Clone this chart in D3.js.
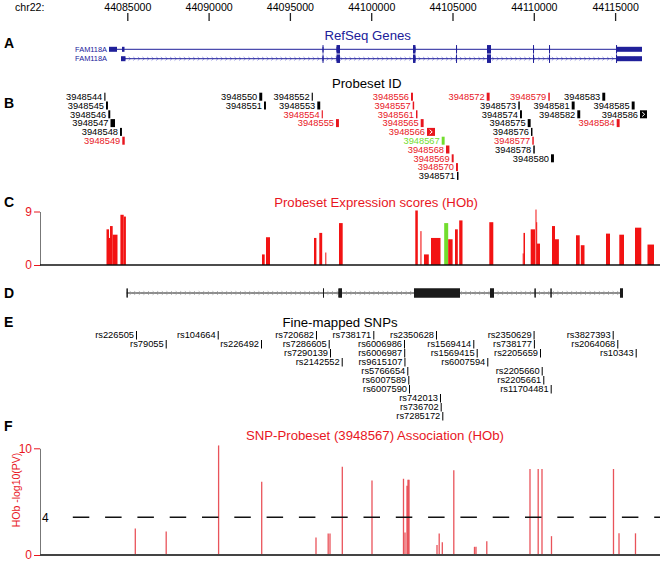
<!DOCTYPE html>
<html><head><meta charset="utf-8">
<script src="https://cdn.jsdelivr.net/npm/d3@7"></script>
<style>
body{margin:0;background:#fff}
svg text{font-family:"Liberation Sans",Arial,Helvetica,sans-serif}
</style>
</head><body>
<svg id="chart" width="661" height="561"></svg>
<script>
// ---------------- DATA ----------------
const chromLabel = "chr22:";
const axisTicks = [44085000, 44090000, 44095000, 44100000, 44105000, 44110000, 44115000];

// RefSeq gene FAM118A (two transcripts), exon [start,end]
const geneName = "FAM118A";
const tx1Exons = [[44083875,44084367],[44084674,44084828],[44097006,44097066],[44097866,44098081],[44102571,44102724],[44105217,44105277],[44107122,44107368],[44109952,44110012],[44110936,44110996],[44115055,44116654]];
const tx2Exons = [[44084613,44084889],[44097006,44097066],[44097866,44098081],[44102571,44102724],[44105217,44105277],[44107122,44107368],[44109952,44110012],[44110936,44110996],[44115055,44116654]];
const cdsRange = [44097006, 44115120];

// Probesets
const probesetIds = ["3948544","3948545","3948546","3948547","3948548","3948549","3948550","3948551","3948552","3948553","3948554","3948555","3948556","3948557","3948561","3948565","3948566","3948567","3948568","3948569","3948570","3948571","3948572","3948573","3948574","3948575","3948576","3948577","3948578","3948579","3948580","3948581","3948582","3948583","3948584","3948585","3948586"];
const probesetStart = [44083586,44083690,44083832,44083967,44084551,44084692,44093118,44093407,44096341,44096685,44096956,44097835,44102448,44102552,44102755,44103044,44103432,44104336,44104600,44104951,44105215,44105277,44107103,44109047,44109151,44109625,44109828,44109908,44109969,44110892,44111058,44112331,44112675,44114213,44115098,44116021,44116531];
const probesetEnd   = [44083656,44083810,44083952,44084244,44084671,44084842,44093298,44093527,44096411,44096865,44097026,44098015,44102568,44102642,44102845,44103224,44103924,44104516,44104810,44105071,44105335,44105367,44107283,44109137,44109271,44109805,44109918,44109998,44110059,44110982,44111238,44112511,44112855,44114393,44115278,44116201,44116962];
const expressedProbesets = ["3948549","3948554","3948555","3948556","3948557","3948561","3948565","3948566","3948568","3948569","3948570","3948572","3948577","3948579","3948584"];
const selectedProbeset = "3948567";

// Probeset expression scores (HOb)
const exprStart = [44083721,44083875,44083936,44084102,44084576,44084779,44093284,44093530,44096482,44096808,44097177,44098020,44102712,44103026,44103247,44103678,44104489,44104735,44105154,44105412,44107263,44109317,44109366,44109809,44110104,44110147,44110197,44111119,44111304,44112595,44112890,44114440,44115258,44116224,44116992];
const exprEnd   = [44083875,44083936,44084102,44084397,44084779,44084914,44093450,44093776,44096630,44096986,44097239,44098247,44102866,44103093,44103542,44104262,44104735,44105006,44105326,44105615,44107509,44109366,44109459,44110074,44110147,44110197,44110381,44111304,44111543,44112823,44113118,44114686,44115547,44116611,44117392];
const exprScore = [6.0,4.55,6.55,5.1,8.45,8.15,1.78,4.67,4.55,5.4,2.1,7.05,9.17,5.7,1.78,4.55,7.05,4.33,6.0,7.5,7.2,1.95,5.4,6.0,9.33,7.2,3.6,6.55,4.33,5.0,3.33,5.28,5.1,6.28,3.44];
const exprTicks = [0, 9];

// Transcript model (panel D)
const modelExons = [[44084960,44085020],[44097036,44097090],[44097989,44098204],[44102632,44105461],[44107306,44107552],[44110050,44110105],[44111030,44111085],[44115301,44115485]];

// Fine-mapped SNPs
const snpIds = ["rs226505","rs79055","rs104664","rs226492","rs720682","rs7286605","rs7290139","rs2142552","rs738171","rs6006986","rs6006987","rs9615107","rs5766654","rs6007589","rs6007590","rs2350628","rs742013","rs736702","rs7285172","rs1569414","rs1569415","rs6007594","rs2350629","rs738177","rs2205659","rs2205660","rs2205661","rs11704481","rs3827393","rs2064068","rs10343"];
const snpPos = [44085535,44087362,44090560,44093223,44096605,44097386,44097466,44098186,44100129,44102017,44102030,44102045,44102220,44102282,44102325,44103985,44104231,44104274,44104373,44106279,44106488,44107140,44109987,44110006,44110381,44110486,44110584,44111039,44114852,44115135,44116267];

// SNP - probeset association, HOb -log10(PV)
const assocPos = [44085492,44087392,44090615,44093266,44096605,44097355,44097466,44098223,44100049,44101986,44102079,44102202,44102263,44102325,44104047,44104182,44104373,44105080,44106353,44106445,44107109,44109766,44110270,44110504,44111088,44114901,44115240,44116254];
const assocLogP = [2.8,2.5,10.25,7.1,1.86,2.28,2.28,8.4,7.2,7.35,2.4,6.75,7.27,7.27,1.05,2.28,1.34,8.1,0.87,0.87,1.47,8.2,8.2,8.2,2.0,8.2,2.3,2.3];
const assocTicks = [0, 10];
const assocThreshold = 4;

// ---------------- STYLE ----------------
const RED = "#e8161e", GREEN = "#72dd2e", NAVY = "#20209a", BLACK = "#000";
const svg = d3.select("#chart");
const x = d3.scaleLinear().domain([44085000, 44115000]).range([127.3, 615.1]);

// ---------------- TOP AXIS ----------------
svg.append("text").attr("x", 15).attr("y", 11).attr("font-size", 10.6).text(chromLabel);
const topAx = svg.append("g").attr("transform", "translate(0,21)")
  .call(d3.axisTop(x).tickValues(axisTicks).tickFormat(d3.format("d")).tickSize(8).tickPadding(2).tickSizeOuter(0));
topAx.select(".domain").remove();
topAx.selectAll("text").attr("font-size", 10.6).attr("font-family", null).attr("fill", BLACK);
topAx.selectAll("line").attr("stroke", "#222").attr("stroke-width", 1.3);

// ---------------- PANEL LETTERS ----------------
const letters = [["A",48],["B",108],["C",207],["D",298],["E",327],["F",431]];
svg.selectAll("text.letter").data(letters).join("text").attr("class","letter")
  .attr("x", 4).attr("y", d=>d[1]).attr("font-size", 14).attr("font-weight","bold").text(d=>d[0]);

function titleText(txt, cx, cy, color) {
  svg.append("text").attr("x", cx).attr("y", cy + 4.6).attr("text-anchor","middle")
    .attr("font-size", 13.2).attr("fill", color).text(txt);
}

// ---------------- GENE DRAWING ----------------
function drawGene(g, exons, yc, opt) {
  const x0 = x(exons[0][0]), x1 = x(exons[exons.length-1][1]);
  g.append("line").attr("x1", x0).attr("x2", x1).attr("y1", yc).attr("y2", yc)
    .attr("stroke", opt.color).attr("stroke-width", 1);
  const arrows = d3.range(x0 + 4, x1 - 2, opt.step);
  g.selectAll("path.arr").data(arrows).join("path").attr("class","arr")
    .attr("d", p => `M${p-1},${yc-1.8}L${p+1},${yc}L${p-1},${yc+1.8}`)
    .attr("fill","none").attr("stroke", opt.arrowColor).attr("stroke-width", 0.8);
  exons.forEach(([s,e]) => {
    const xs = x(s), w = Math.max(1, x(e) - xs);
    g.append("rect").attr("x", xs).attr("width", w).attr("y", yc - opt.thin/2).attr("height", opt.thin).attr("fill", opt.color);
    const cs = Math.max(s, opt.cds[0]), ce = Math.min(e, opt.cds[1]);
    if (ce > cs) {
      const cx = x(cs), cw = Math.max(1, x(ce) - cx);
      g.append("rect").attr("x", cx).attr("width", cw).attr("y", yc - opt.thick/2).attr("height", opt.thick).attr("fill", opt.color);
    }
  });
}

// Panel A
titleText("RefSeq Genes", 367.7, 35.5, NAVY);
const gA = svg.append("g");
[[tx1Exons, 49.3], [tx2Exons, 58.7]].forEach(([ex, yc]) => {
  drawGene(gA, ex, yc, {color: NAVY, arrowColor: "#8c8ce0", step: 4.6, thin: 5, thick: 8.5, cds: cdsRange});
  gA.append("text").attr("x", 107).attr("y", yc + 2.6).attr("text-anchor","end")
    .attr("font-size", 7.4).attr("fill", NAVY).text(geneName);
});

// ---------------- PACKED LABEL TRACKS ----------------
function packTrack(items, o) {
  const g = svg.append("g");
  items.sort((a,b) => a.start - b.start);
  const rows = [];
  items.forEach(d => {
    const xs = x(d.start), xe = Math.max(x(d.end), xs + 1);
    const t = g.append("text").attr("x", xs - 2).attr("text-anchor","end")
      .attr("font-size", o.fontSize).attr("fill", d.color).text(d.label);
    const left = xs - 2 - t.node().getComputedTextLength();
    let r = rows.findIndex(rr => left >= rr + o.gap);
    if (r < 0) { r = rows.length; rows.push(0); }
    rows[r] = xe;
    const yc = o.y0 + r * o.dy;
    t.attr("y", yc + o.fontSize * 0.36);
    g.append("rect").attr("x", xs).attr("width", xe - xs).attr("y", yc - 4).attr("height", 8).attr("fill", d.color);
    if (xe - xs >= 5) {
      const mx = (xs + xe) / 2;
      g.append("path").attr("d", `M${mx-1.3},${yc-2.2}L${mx+1.2},${yc}L${mx-1.3},${yc+2.2}`)
        .attr("fill","none").attr("stroke","#fff").attr("stroke-width",1);
    }
  });
}

// Panel B
titleText("Probeset ID", 366.7, 83.3, BLACK);
const probesets = probesetIds.map((id,i) => ({
  label: id, start: probesetStart[i], end: probesetEnd[i],
  color: id === selectedProbeset ? GREEN : (expressedProbesets.includes(id) ? RED : BLACK)
}));
packTrack(probesets, {y0: 96.7, dy: 8.8, gap: 7, fontSize: 9.3});

// ---------------- PANEL C ----------------
titleText("Probeset Expression scores (HOb)", 376, 202, RED);
const yC = d3.scaleLinear().domain([0, 9]).range([265, 211.5]);
const selIdx = probesetIds.indexOf(selectedProbeset);
const selS = probesetStart[selIdx], selE = probesetEnd[selIdx];
svg.append("g").selectAll("rect").data(exprScore).join("rect")
  .attr("x", (d,i) => x(exprStart[i]))
  .attr("width", (d,i) => Math.max(1, x(exprEnd[i]) - x(exprStart[i])))
  .attr("y", d => yC(d)).attr("height", d => yC(0) - yC(d))
  .attr("fill", (d,i) => (exprStart[i] < selE && exprEnd[i] > selS) ? GREEN : "#f21313");
const axC = svg.append("g").attr("transform","translate(40,0)")
  .call(d3.axisLeft(yC).tickValues(exprTicks).tickSize(6).tickPadding(2).tickSizeOuter(0));
axC.select(".domain").attr("stroke","#777");
axC.selectAll("line").attr("stroke", RED);
axC.selectAll("text").attr("fill", RED).attr("font-size", 12).attr("font-family", null);
svg.append("line").attr("x1", 40).attr("x2", 660).attr("y1", yC(0)).attr("y2", yC(0))
  .attr("stroke", "#111").attr("stroke-width", 1.5);

// ---------------- PANEL D ----------------
drawGene(svg.append("g"), modelExons, 293, {color: "#1a1a1a", arrowColor: "#9a9a9a", step: 4.6, thin: 9, thick: 9, cds: [modelExons[0][0], modelExons[modelExons.length-1][1]]});

// ---------------- PANEL E ----------------
titleText("Fine-mapped SNPs", 340, 322.7, BLACK);
(function() {
  const g = svg.append("g");
  const items = snpIds.map((id,i) => ({label: id, pos: snpPos[i]})).sort((a,b) => a.pos - b.pos);
  const rows = [];
  items.forEach(d => {
    const xp = x(d.pos);
    const t = g.append("text").attr("x", xp - 2).attr("text-anchor","end").attr("font-size", 9.3).text(d.label);
    const left = xp - 2 - t.node().getComputedTextLength();
    let r = rows.findIndex(rr => left >= rr + 12);
    if (r < 0) { r = rows.length; rows.push(0); }
    rows[r] = xp + 1;
    const yc = 335 + r * 9;
    t.attr("y", yc + 3.4);
    g.append("line").attr("x1", xp + 0.5).attr("x2", xp + 0.5).attr("y1", yc - 4).attr("y2", yc + 4.5)
      .attr("stroke", BLACK).attr("stroke-width", 1);
  });
})();

// ---------------- PANEL F ----------------
titleText("SNP-Probeset (3948567) Association (HOb)", 375, 435, RED);
const yF = d3.scaleLinear().domain([0, assocThreshold, 10]).range([555, 517.3, 448.3]);
svg.append("g").selectAll("line").data(assocLogP).join("line")
  .attr("x1", (d,i) => x(assocPos[i])).attr("x2", (d,i) => x(assocPos[i]))
  .attr("y1", yF(0)).attr("y2", d => yF(d))
  .attr("stroke", "#e0101a").attr("stroke-opacity", 0.72).attr("stroke-width", 1.3);
const axF = svg.append("g").attr("transform","translate(40,0)")
  .call(d3.axisLeft(yF).tickValues(assocTicks).tickSize(6).tickPadding(2).tickSizeOuter(0));
axF.select(".domain").attr("stroke","#777");
axF.selectAll("line").attr("stroke", RED);
axF.selectAll("text").attr("fill", RED).attr("font-size", 12).attr("font-family", null);
svg.append("line").attr("x1", 72.8).attr("x2", 660).attr("y1", yF(assocThreshold)).attr("y2", yF(assocThreshold))
  .attr("stroke", "#111").attr("stroke-width", 1.5).attr("stroke-dasharray", "16.5,15.8");
svg.append("text").attr("x", 42).attr("y", yF(assocThreshold) + 4.3).attr("font-size", 12).text(String(assocThreshold));
svg.append("line").attr("x1", 40).attr("x2", 660).attr("y1", yF(0)).attr("y2", yF(0))
  .attr("stroke", "#444").attr("stroke-width", 1.8);
svg.append("text").attr("transform", "translate(20,490) rotate(-90)").attr("text-anchor","middle")
  .attr("font-size", 10.5).attr("fill", RED).text("HOb -log10(PV)");
</script>
</body></html>
